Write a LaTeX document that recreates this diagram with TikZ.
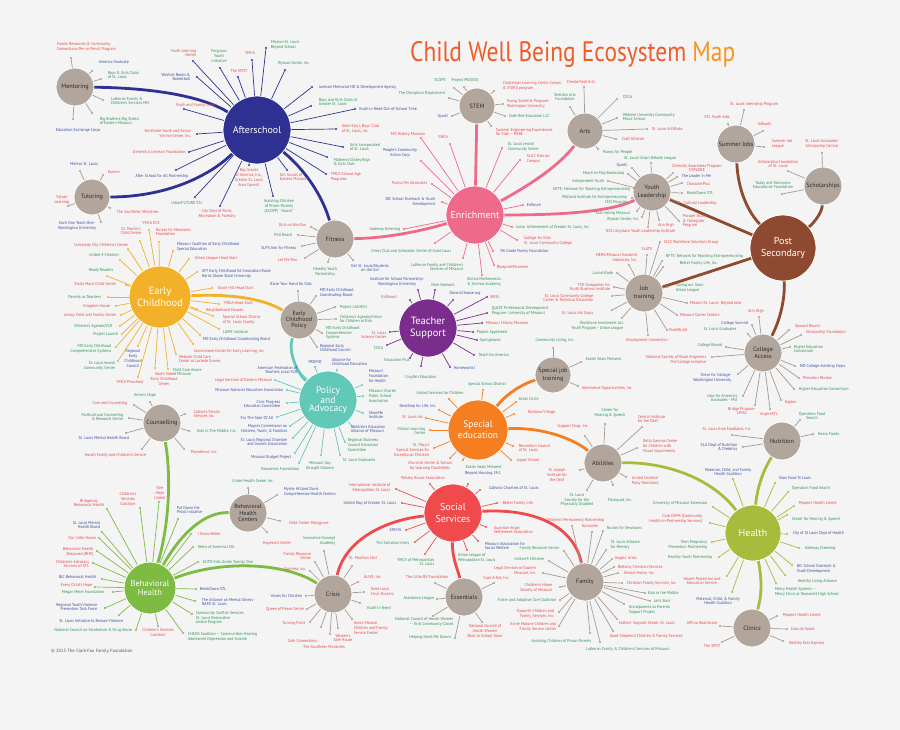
\documentclass[tikz,border=0pt]{standalone}
\usepackage{fontspec}
\setmainfont{PT Sans}
\newfontfamily\lblfont[FakeStretch=0.92]{PT Sans}
\definecolor{bg}{HTML}{F4F4F4}
\definecolor{tr}{HTML}{E5474A}
\definecolor{tg}{HTML}{2E9157}
\definecolor{tb}{HTML}{3D4DA0}
\definecolor{cAS}{HTML}{2E3192}
\definecolor{cEN}{HTML}{EE6A8A}
\definecolor{cEC}{HTML}{F2B129}
\definecolor{cTS}{HTML}{7B2D8E}
\definecolor{cPA}{HTML}{62C9B9}
\definecolor{cSE}{HTML}{F47E20}
\definecolor{cSS}{HTML}{EF4A4C}
\definecolor{cBH}{HTML}{7DBB42}
\definecolor{cHE}{HTML}{A7BB3C}
\definecolor{cPS}{HTML}{8E4A30}
\definecolor{cGR}{HTML}{B1A59C}
\definecolor{cGS}{HTML}{A59A92}
\definecolor{cTX}{HTML}{2B2B2B}
\definecolor{cT1}{HTML}{F15A29}
\definecolor{cT2}{HTML}{F7941D}
\definecolor{cFT}{HTML}{555555}
\newcounter{lfc}
\newcommand\lf[5]{\stepcounter{lfc}%
  \node[ldot,fill=\SC] (d\thelfc) at (#1) {};
  \draw[spoke,draw=\SC] (\HUB) -- (d\thelfc);
  \node[lbl,#3,text=#4] (t\thelfc) at (#2) {#5};}
\tikzset{
  ldot/.style={circle,inner sep=0pt,minimum size=2.2pt,draw=none},
  spoke/.style={line width=0.7pt},
  lbl/.style={inner sep=0.6pt,font=\lblfont\fontsize{4.3}{4.9}\selectfont},
  aW/.style={anchor=west,align=left},
  aE/.style={anchor=east,align=right},
  aC/.style={anchor=center,align=center},
  aN/.style={anchor=north,align=center},
  aS/.style={anchor=south,align=center},
  aSW/.style={anchor=south west,align=left},
  hub/.style={circle,inner sep=0pt,align=center,draw=white,line width=0.8pt},
  bighub/.style={hub,text=white,font=\fontsize{10}{12}\selectfont},
  greyhub/.style={hub,fill=cGR,text=cTX,font=\fontsize{6.2}{7.2}\selectfont},
  link/.style={line width=2.8pt},
}
\begin{document}
\begin{tikzpicture}[x=1pt,y=-1pt]
\fill[bg] (0,0) rectangle (900,730);
\useasboundingbox (0,0) rectangle (900,730);

\node[anchor=base west,inner sep=0pt] (title) at (410,62) {\resizebox{325pt}{20pt}{\color{cT1}Child Well Being Ecosystem \color{cT2}Map}};
\node[anchor=west,inner sep=0pt,font=\fontsize{4.6}{5}\selectfont,text=cFT] (foot) at (51,651) {\textcopyright{} 2015 The Clark-Fox Family Foundation};

% hubs
\node[greyhub,minimum size=38pt] (mentoring) at (75,87) {Mentoring};
\node[bighub,fill=cAS,minimum size=68pt] (afterschool) at (257,130) {Afterschool};
\node[greyhub,minimum size=36pt] (tutoring) at (92,197) {Tutoring};
\node[greyhub,minimum size=36pt] (stem) at (477,106) {STEM};
\node[greyhub,minimum size=36pt] (arts) at (585,131) {Arts};
\node[greyhub,minimum size=38pt] (summerjobs) at (736,144) {Summer Jobs};
\node[greyhub,minimum size=38pt] (scholarships) at (823,186) {Scholarships};
\node[greyhub,minimum size=38pt] (youthlead) at (652,192) {Youth\\Leadership};
\node[bighub,fill=cEN,minimum size=58pt] (enrichment) at (475,215) {Enrichment};
\node[greyhub,minimum size=38pt] (fitness) at (335,239) {Fitness};
\node[bighub,fill=cPS,minimum size=66pt] (postsec) at (783,248) {Post\\Secondary};
\node[bighub,fill=cEC,minimum size=62pt,font=\fontsize{10.5}{12.5}\selectfont] (earlychild) at (160,297) {Early\\Childhood};
\node[greyhub,minimum size=38pt,font=\fontsize{6}{6.4}\selectfont] (ecpolicy) at (299,320) {Early\\Childhood\\Policy};
\node[bighub,fill=cTS,minimum size=58pt,font=\fontsize{10.5}{12}\selectfont] (teacher) at (428,328) {Teacher\\Support};
\node[greyhub,minimum size=38pt] (jobtrain) at (644,293) {Job\\training};
\node[greyhub,minimum size=38pt] (college) at (763,353) {College\\Access};
\node[greyhub,minimum size=36pt] (sjt) at (553,375) {Special job\\training};
\node[bighub,fill=cPA,minimum size=58pt,font=\fontsize{9.5}{8}\selectfont] (policy) at (328,400) {Policy\\and\\Advocacy};
\node[greyhub,minimum size=38pt] (counsel) at (162,423) {Counselling};
\node[bighub,fill=cSE,minimum size=60pt,font=\fontsize{9.5}{11}\selectfont] (specialed) at (478,430) {Special\\education};
\node[greyhub,minimum size=38pt] (abilities) at (603,463) {Abilities};
\node[greyhub,minimum size=38pt] (nutrition) at (782,441) {Nutrition};
\node[greyhub,minimum size=38pt,font=\fontsize{6}{6.2}\selectfont] (bhc) at (248,513) {Behavioral\\Health\\Centers};
\node[bighub,fill=cSS,minimum size=58pt,font=\fontsize{10}{12}\selectfont] (social) at (453,513) {Social\\Services};
\node[bighub,fill=cHE,minimum size=56pt] (health) at (753,533) {Health};
\node[bighub,fill=cBH,minimum size=52pt,font=\fontsize{8.5}{8.5}\selectfont] (behav) at (150,588) {Behavioral\\Health};
\node[greyhub,minimum size=38pt] (crisis) at (333,594) {Crisis};
\node[greyhub,minimum size=38pt] (essentials) at (464,597) {Essentials};
\node[greyhub,minimum size=38pt] (family) at (585,582) {Family};
\node[greyhub,minimum size=38pt] (clinics) at (752,628) {Clinics};

% main links
\draw[link,cAS] (mentoring) .. controls (160,88) and (205,98) .. (afterschool);
\draw[link,cAS] (tutoring) .. controls (160,197) and (205,180) .. (afterschool);
\draw[link,cAS] (afterschool) .. controls (305,170) and (322,195) .. (fitness);
\draw[link,cEN] (fitness) .. controls (390,238) and (425,230) .. (enrichment);
\draw[link,cEN] (stem) -- (enrichment);
\draw[link,cEN] (arts) .. controls (560,165) and (530,185) .. (enrichment);
\draw[link,cEN] (enrichment) .. controls (560,215) and (610,212) .. (youthlead);
\draw[link,cPS] (summerjobs) .. controls (738,190) and (748,212) .. (postsec);
\draw[link,cPS] (scholarships) .. controls (822,212) and (815,222) .. (postsec);
\draw[link,cPS] (youthlead) -- (postsec);
\draw[link,cPS] (jobtrain) -- (postsec);
\draw[link,cPS] (postsec) .. controls (785,300) and (780,320) .. (college);
\draw[link,cEC] (earlychild) .. controls (230,294) and (262,298) .. (ecpolicy);
\draw[link,cPA] (ecpolicy) .. controls (288,350) and (296,372) .. (policy);
\draw[link,cSE] (specialed) .. controls (508,392) and (525,383) .. (sjt);
\draw[link,cSE] (specialed) .. controls (545,427) and (575,440) .. (abilities);
\draw[link,cBH] (counsel) .. controls (172,480) and (168,530) .. (behav);
\draw[link,cBH] (bhc) .. controls (205,512) and (182,532) .. (behav);
\draw[link,cBH] (behav) .. controls (220,560) and (285,562) .. (crisis);
\draw[link,cSS] (social) .. controls (385,520) and (345,540) .. (crisis);
\draw[link,cSS] (social) .. controls (452,558) and (458,570) .. (essentials);
\draw[link,cSS] (social) .. controls (540,508) and (575,530) .. (family);
\draw[link,cHE] (abilities) .. controls (672,462) and (715,482) .. (health);
\draw[link,cHE] (nutrition) .. controls (762,472) and (757,490) .. (health);
\draw[link,cHE] (health) .. controls (762,580) and (762,595) .. (clinics);

% Mentoring
\def\HUB{mentoring}\def\SC{cGS}
\lf{71,58}{56,52}{aSW}{tr}{Family Resources \& Community\\Connections Pen or Pencil Program}
\lf{92,71}{98,62}{aW}{tb}{America Graduate}
\lf{101,79}{107,75}{aW}{tg}{Boys \& Girls Clubs\\of St. Louis}
\lf{103,100}{110,101}{aW}{tg}{Lutheran Family \&\\Children's Services MO}
\lf{92,113}{99,121}{aW}{tg}{Big Brothers Big Sisters\\of Eastern Missouri}
\lf{73,119}{55,130}{aW}{tb}{Education Exchange Corps}

% Afterschool
\def\HUB{afterschool}\def\SC{cAS}
\lf{193,61}{197,53}{aE}{tr}{Youth Learning\\Center}
\lf{220,68}{219,56}{aC}{tg}{Ferguson\\Youth\\Initiative}
\lf{252,60}{250,53}{aC}{tr}{YMCA}
\lf{266,48}{270,45}{aW}{tg}{Mission St. Louis\\Beyond School}
\lf{285,70}{277,63}{aW}{tg}{Wyman Center, Inc.}
\lf{238,77}{239,71}{aC}{tr}{The SPOT}
\lf{197,77}{191,77}{aE}{tb}{Washiel Books \&\\Basketball}
\lf{184,109}{175,105}{aW}{tr}{Youth and Family Center}
\lf{197,134}{192,134}{aE}{tr}{Northside Youth and Senior\\Service Center, Inc.}
\lf{189,152}{186,152}{aE}{tr}{Demetrius Johnson Foundation}
\lf{176,170}{189,176}{aE}{tb}{After School for All Partnership}
\lf{249,165}{249,168}{aN}{tr}{Boy Scouts\\of America, Inc.,\\Greater St. Louis\\Area Council}
\lf{287,170}{279,177}{aW}{tr}{Girl Scouts of\\Eastern Missouri}
\lf{273,196}{279,199}{aN}{tg}{Assisting Children\\of Prison Parents\\(ACOPP) ``Hoard''}
\lf{220,206}{217,209}{aN}{tr}{City Dept of Parks,\\Recreation \& Forestry}
\lf{195,197}{187,201}{aN}{tg}{UrbanFUTURE STL}
\lf{312,87}{318,87}{aW}{tb}{Jamison Memorial HR \& Development Agency}
\lf{311,106}{318,102}{aW}{tg}{Boys and Girls Clubs of\\Greater St. Louis}
\lf{355,109}{358,109}{aW}{tb}{Youth in Need Out-of-School Time}
\lf{336,129}{341,129}{aW}{tr}{Gene Slay's Boys' Club\\of St. Louis, Inc.}
\lf{343,147}{349,147}{aW}{tg}{Girls Incorporated\\of St. Louis}
\lf{327,157}{333,162}{aW}{tg}{Mathews-Dickey Boys\\\& Girls Club}
\lf{326,174}{330,177}{aW}{tr}{YMCA School-Age\\Programs}

% Tutoring
\def\HUB{tutoring}\def\SC{cGS}
\lf{80,171}{84,164}{aC}{tb}{Mentor St. Louis}
\lf{103,175}{107,172}{aW}{tr}{Kumon}
\lf{68,206}{62,200}{aC}{tr}{Sylvan\\Learning}
\lf{110,208}{116,212}{aW}{tr}{The Soulfisher Ministries}
\lf{101,222}{77,226}{aC}{tb}{Each One Teach One-\\Washington University}

% STEM
\def\HUB{stem}\def\SC{cGS}
\lf{454,88}{440,80}{aC}{tg}{SCOPE}
\lf{464,87}{465,80}{aC}{tg}{Project MOSSSS}
\lf{494,91}{502,86}{aW}{tr}{Challenger Learning Center Camps\\\& STARS program}
\lf{449,98}{446,93}{aE}{tg}{The Disruption Department}
\lf{503,104}{506,104}{aW}{tr}{Young Scientist Program-\\Washington University}
\lf{452,116}{449,116}{aE}{tb}{Spark!}
\lf{505,116}{508,116}{aW}{tg}{Code Red Education LLC}
\lf{491,126}{495,132}{aW}{tr}{Summer Engineering Experiences\\for Kids -- NSBE}

% Arts
\def\HUB{arts}\def\SC{cGS}
\lf{584,87}{581,82}{aC}{tr}{Chesterfield Arts}
\lf{570,107}{565,97}{aC}{tg}{Sheldon Arts\\Foundation}
\lf{617,99}{622,97}{aW}{tg}{COCA}
\lf{617,118}{622,117}{aW}{tg}{Webster University Community\\Music School}
\lf{647,129}{651,129}{aW}{tr}{St. Louis ArtWorks}
\lf{616,139}{621,139}{aW}{tr}{Craft Alliance}
\lf{598,149}{602,152}{aW}{tg}{Pianos for People}

% Enrichment
\def\HUB{enrichment}\def\SC{cEN}
\lf{421,138}{408,134}{aC}{tr}{MO History Museum}
\lf{450,144}{443,137}{aC}{tr}{YWCA}
\lf{421,161}{400,153}{aC}{tb}{People's Community\\Action Corp}
\lf{502,148}{507,147}{aW}{tg}{St. Louis Jewish\\Community Center}
\lf{520,160}{526,159}{aW}{tr}{SLUC Kids on\\Campus}
\lf{432,184}{428,183}{aE}{tr}{Purina Pet Advocates}
\lf{442,202}{436,202}{aE}{tb}{BJC School Outreach \& Youth\\Development}
\lf{404,229}{401,229}{aE}{tg}{Gateway Greening}
\lf{435,243}{452,251}{aE}{tg}{Chess Club and Scholastic Center of Saint Louis}
\lf{463,258}{464,267}{aE}{tg}{Lutheran Family and Children's\\Services of Missouri}
\lf{482,275}{484,277}{aN}{tg}{Illinois Mathematics\\\& Science Academy}
\lf{494,265}{496,267}{aW}{tr}{Blueprint4Summer}
\lf{493,251}{499,251}{aW}{tb}{7th Grade Poetry Foundation}
\lf{517,240}{523,241}{aW}{tr}{College for Kids-\\St. Louis Community College}
\lf{512,227}{515,227}{aW}{tg}{Junior Achievement of Greater St. Louis, Inc}
\lf{523,205}{526,205}{aW}{tb}{Enflourn}

% Youth Leadership
\def\HUB{youthlead}\def\SC{cGS}
\lf{651,163}{650,158}{aC}{tg}{St. Louis Urban Debate League}
\lf{673,173}{697,168}{aC}{tr}{Diversity Awareness Program\\EXPLORE}
\lf{677,177}{681,176}{aW}{tb}{The Leader in Me}
\lf{682,183}{686,184}{aW}{tr}{CharacterPlus}
\lf{682,193}{686,193}{aW}{tg}{BreakDown STL}
\lf{679,202}{683,203}{aW}{tr}{Cultural Leadership}
\lf{679,221}{682,221}{aW}{tr}{Prosper Youth\\\& Collegiate\\Program}
\lf{659,220}{666,225}{aC}{tr}{Aim High}
\lf{648,227}{676,231}{aE}{tr}{NCCJ Anytown Youth Leadership Institute}
\lf{642,217}{640,219}{aE}{tg}{Wyman Center, Inc.}
\lf{637,211}{631,213}{aE}{tg}{Kids Voting Missouri}
\lf{632,198}{628,200}{aE}{tg}{Midland Institute for Entrepreneurship\\CEO Program}
\lf{634,188}{631,189}{aE}{tg}{NFTE: Network for Teaching Entrepreneurship}
\lf{608,181}{605,181}{aE}{tg}{Independent Youth}
\lf{628,174}{625,173}{aE}{tg}{March to May Bookcamp}
\lf{632,168}{628,165}{aE}{tb}{Spark!}

% Summer Jobs
\def\HUB{summerjobs}\def\SC{cGS}
\lf{744,110}{754,104}{aC}{tr}{St. Louis Internship Program}
\lf{728,124}{717,117}{aC}{tr}{STL Youth Jobs}
\lf{763,131}{757,124}{aW}{tr}{InRoads}
\lf{764,147}{771,144}{aW}{tr}{Summer Job\\League}

% Scholarships
\def\HUB{scholarships}\def\SC{cGS}
\lf{822,153}{822,144}{aC}{tr}{St. Louis Graduates'\\Scholarship Central}
\lf{788,171}{778,164}{aC}{tr}{Scholarship Foundation\\of St. Louis}
\lf{782,194}{773,185}{aC}{tg}{Today and Tomorrow\\Educational Foundation}

% Job training
\def\HUB{jobtrain}\def\SC{cGS}
\lf{660,242}{663,242}{aW}{tr}{SLCC Workforce Solutions Group}
\lf{647,255}{647,249}{aC}{tr}{SLATE}
\lf{629,265}{638,258}{aE}{tr}{MERS/Missouri Goodwill\\Industries, Inc.}
\lf{662,261}{665,256}{aW}{tg}{NFTE: Network for Teaching Entrepreneurship}
\lf{663,267}{679,263}{aW}{tg}{Better Family Life, Inc.}
\lf{667,287}{675,288}{aW}{tg}{Saving our Sons-\\Urban League}
\lf{687,303}{689,303}{aW}{tr}{Mission St. Louis- Beyond Jobs}
\lf{677,315}{679,315}{aW}{tr}{Missouri Career Centers}
\lf{667,330}{668,330}{aW}{tr}{YouthBuild}
\lf{648,335}{647,340}{aC}{tr}{Employment Connection}
\lf{622,318}{624,326}{aE}{tg}{Workforce Investment Act\\Youth Program - Urban League}
\lf{617,273}{614,273}{aE}{tg}{LaunchCode}
\lf{614,287}{611,287}{aE}{tr}{T3X Companies Inc\\Youth Business Institute}
\lf{612,296}{594,298}{aE}{tr}{St. Louis Community College\\Career \& Technical Education}
\lf{612,310}{594,313}{aE}{tr}{St. Louis Job Corps}

% College Access
\def\HUB{college}\def\SC{cGS}
\lf{759,317}{756,311}{aC}{tr}{Aim High}
\lf{752,325}{749,323}{aE}{tb}{College Summit}
\lf{748,334}{737,329}{aE}{tg}{St. Louis Graduates}
\lf{726,347}{723,345}{aE}{tg}{College Bound}
\lf{789,330}{794,326}{aW}{tr}{Upward Bound}
\lf{801,335}{805,332}{aW}{tr}{Scholarship Foundation}
\lf{790,347}{793,349}{aW}{tg}{Higher Education\\Consortium}
\lf{795,366}{799,366}{aW}{tb}{MO College Advising Corps}
\lf{799,378}{802,378}{aW}{tr}{Princeton Review}
\lf{794,389}{798,389}{aW}{tg}{Higher Education Consortium}
\lf{781,400}{784,402}{aW}{tr}{Kaplan}
\lf{770,409}{769,414}{aC}{tr}{inspireSTL}
\lf{755,405}{742,411}{aC}{tr}{Bridge Program-\\UMSL}
\lf{743,396}{738,398}{aE}{tg}{Jobs for America's\\Graduates - MO}
\lf{738,374}{732,378}{aE}{tb}{Strive for College-\\Washington University}
\lf{712,357}{707,360}{aE}{tr}{National Society of Black Engineers\\Pre-College Initiative}

% Special job training
\def\HUB{sjt}\def\SC{cGS}
\lf{553,348}{555,340}{aC}{tg}{Community Living, Inc.}
\lf{581,362}{585,359}{aW}{tg}{Easter Seals Midwest}
\lf{578,386}{581,388}{aW}{tr}{Alternative Opportunities, Inc.}

% Early Childhood
\def\HUB{earlychild}\def\SC{cEC}
\lf{149,230}{151,223}{aC}{tr}{YMCA ECE}
\lf{140,241}{131,231}{aC}{tr}{St. Martin's\\Child Center}
\lf{159,242}{155,232}{aW}{tr}{Nurses for Newborns\\Foundation}
\lf{173,251}{176,247}{aW}{tb}{Missouri Coalition of Early Childhood\\Special Education}
\lf{189,259}{194,258}{aW}{tr}{Urban League Head Start}
\lf{197,272}{201,274}{aW}{tb}{AFT Early Childhood Ed Innovation Rand-\\Harris Stowe State University}
\lf{212,288}{217,288}{aW}{tr}{Grace Hill Head Start}
\lf{219,304}{223,303}{aW}{tr}{YWCA Head Start}
\lf{197,309}{205,310}{aW}{tr}{Neighborhood Houses}
\lf{213,316}{222,320}{aW}{tr}{Special School District\\of St. Louis County}
\lf{219,329}{222,332}{aW}{tg}{LUME Institute}
\lf{200,335}{202,339}{aW}{tb}{MO Early Childhood Coordinating Board}
\lf{193,344}{193,351}{aW}{tr}{Cornerstone Center for Early Learning, Inc.}
\lf{176,354}{178,359}{aW}{tr}{Webster Child Care\\Center at Laclede Groves}
\lf{168,369}{172,372}{aW}{tg}{Child Care Aware\\of Missouri}
\lf{155,368}{164,372}{aN}{tr}{South Side\\Early Childhood\\Center}
\lf{138,377}{130,382}{aC}{tr}{YMCA Preschool}
\lf{138,346}{133,349}{aN}{tb}{Regional\\Early\\Childhood\\Council}
\lf{118,361}{116,366}{aE}{tg}{St. Louis Jewish\\Community Center}
\lf{116,347}{112,349}{aE}{tg}{MO Early Childhood\\Comprehensive Systems}
\lf{122,334}{119,334}{aE}{tg}{Project Launch}
\lf{120,326}{113,326}{aE}{tg}{Children's Agenda/VCR}
\lf{121,315}{117,315}{aE}{tr}{Lemay Child and Family Center}
\lf{116,306}{111,306}{aE}{tr}{Kingdom House}
\lf{108,297}{102,297}{aE}{tg}{Parents as Teachers}
\lf{126,285}{117,284}{aE}{tr}{Stella Maris Child Center}
\lf{107,276}{101,270}{aC}{tg}{Ready Readers}
\lf{120,260}{104,255}{aC}{tg}{United 4 Children}
\lf{128,249}{129,245}{aE}{tr}{University City Children's Center}

% Early Childhood Policy
\def\HUB{ecpolicy}\def\SC{cGS}
\lf{298,291}{291,284}{aC}{tb}{Raise Your Hand for Kids}
\lf{316,296}{319,293}{aW}{tb}{MO Early Childhood\\Coordinating Board}
\lf{335,307}{339,307}{aW}{tg}{Project LAUNCH}
\lf{336,319}{339,319}{aW}{tg}{Children's Agenda/Vision\\for Children at Risk}
\lf{322,333}{325,333}{aW}{tg}{MO Early Childhood\\Comprehensive\\Systems}
\lf{317,347}{319,348}{aW}{tb}{Regional Early\\Childhood Council}

% Fitness
\def\HUB{fitness}\def\SC{cGS}
\lf{311,227}{307,225}{aE}{tr}{Girls on the Run}
\lf{298,235}{293,235}{aE}{tg}{PGA Reach}
\lf{302,246}{297,248}{aE}{tb}{SLPS Aim for Fitness}
\lf{305,258}{298,260}{aE}{tr}{Let Me Run}
\lf{328,262}{325,272}{aC}{tg}{Healthy Youth\\Partnership}
\lf{353,260}{370,268}{aC}{tb}{Get St. Louis/Students\\on the Go!}

% Teacher Support
\def\HUB{teacher}\def\SC{cTS}
\lf{418,290}{397,282}{aC}{tb}{Institute for School Partnership-\\Washington University}
\lf{435,290}{443,285}{aC}{tg}{Nine Network}
\lf{453,300}{465,293}{aC}{tb}{DonorsChoose.org}
\lf{487,297}{489,297}{aW}{tr}{UMSL}
\lf{487,313}{491,311}{aW}{tg}{QuEST Professional Development\\Program- University of Missouri}
\lf{482,323}{485,323}{aW}{tr}{Missouri History Museum}
\lf{473,332}{476,332}{aW}{tg}{Project Appleseed}
\lf{477,340}{479,340}{aW}{tg}{Springboard}
\lf{474,355}{478,355}{aW}{tg}{Teach for America}
\lf{450,367}{453,368}{aW}{tb}{Homeworks!}
\lf{421,366}{421,377}{aC}{tg}{Crayfish Education}
\lf{410,358}{397,360}{aC}{tg}{Education Plus}
\lf{387,345}{384,348}{aE}{tg}{COCA}
\lf{390,332}{387,335}{aE}{tr}{St. Louis\\Science Center}
\lf{410,300}{389,297}{aC}{tr}{KidSmart}

% Policy and Advocacy
\def\HUB{policy}\def\SC{cPA}
\lf{300,372}{298,370}{aE}{tb}{American Federation of\\Teachers Local 420}
\lf{275,380}{273,380}{aE}{tr}{Legal Services of Eastern Missouri}
\lf{287,390}{284,390}{aE}{tb}{Missouri National Education Association}
\lf{287,403}{281,404}{aE}{tb}{Civic Progress\\Education Committee}
\lf{277,417}{274,418}{aE}{tb}{For The Sake Of All}
\lf{290,426}{288,429}{aE}{tb}{Mayor's Commission on\\Children, Youth, \& Families}
\lf{293,438}{288,442}{aE}{tb}{St. Louis Regional Chamber\\and Growth Association}
\lf{295,453}{292,457}{aE}{tb}{Missouri Budget Project}
\lf{299,463}{300,469}{aE}{tg}{Deaconess Foundation}
\lf{321,455}{320,466}{aC}{tg}{Missouri Gay\\Straight Alliance}
\lf{340,455}{342,460}{aW}{tg}{St. Louis Graduates}
\lf{345,442}{347,445}{aW}{tg}{Regional Business\\Council Education\\Committee}
\lf{353,427}{350,429}{aW}{tb}{Children's Education\\Alliance of Missouri}
\lf{363,413}{368,415}{aW}{tb}{ShowMe\\Institute}
\lf{363,396}{368,396}{aW}{tg}{Missouri Charter\\Public School\\Association}
\lf{362,385}{368,376}{aW}{tb}{Missouri\\Foundation\\for Health}
\lf{315,367}{315,362}{aC}{tb}{PROMO}
\lf{337,370}{331,362}{aW}{tb}{Alliance for\\Childhood Education}

% Counselling
\def\HUB{counsel}\def\SC{cGS}
\lf{150,402}{145,395}{aC}{tg}{Annie's Hope}
\lf{134,405}{128,403}{aE}{tr}{Care and Counseling}
\lf{129,418}{124,417}{aE}{tg}{Multicultural Counseling\\\& Research Center}
\lf{126,433}{130,438}{aE}{tb}{St. Louis Mental Health Board}
\lf{142,449}{147,455}{aE}{tr}{Jewish Family and Children's Service}
\lf{184,449}{190,452}{aW}{tr}{Providence, Inc.}
\lf{189,431}{196,431}{aW}{tg}{Kids In The Middle, Inc.}
\lf{185,414}{193,414}{aW}{tr}{Catholic Family\\Services Inc.}

% Behavioral Health Centers
\def\HUB{bhc}\def\SC{cGS}
\lf{248,488}{253,481}{aC}{tg}{Crider Health Center Inc.}
\lf{277,495}{283,492}{aW}{tb}{Myrtle Hilliard Davis\\Comprehensive Health Centers}
\lf{280,521}{288,523}{aW}{tr}{Child Center-Marygrove}
\lf{267,532}{277,543}{aC}{tr}{Hopewell Center}

% Behavioral Health
\def\HUB{behav}\def\SC{cBH}
\lf{107,509}{89,503}{aC}{tr}{Bridgeway\\Behavioral Health}
\lf{140,508}{128,499}{aC}{tr}{Children's\\Services\\Coalition}
\lf{159,502}{160,493}{aC}{tr}{One\\Hope\\United}
\lf{178,519}{176,510}{aW}{tb}{Put Down the\\Pistol Initiative}
\lf{191,534}{197,534}{aW}{tr}{I Know Better}
\lf{102,532}{101,525}{aE}{tb}{St. Louis Mental\\Health Board}
\lf{99,538}{97,538}{aE}{tr}{Our Little Haven}
\lf{97,551}{94,552}{aE}{tr}{Behavioral Health\\Response (BHR)}
\lf{93,563}{90,564}{aE}{tr}{Children's Advocacy\\Services of STL}
\lf{102,579}{97,577}{aE}{tb}{BJC Behavioral Health}
\lf{95,587}{93,585}{aE}{tr}{Every Child's Hope}
\lf{113,592}{105,592}{aE}{tg}{Megan Meier Foundation}
\lf{105,608}{98,607}{aE}{tb}{Regional Youth Violence\\Prevention Task Force}
\lf{119,615}{124,621}{aE}{tb}{St. Louis Initiative to Reduce Violence}
\lf{136,630}{133,630}{aE}{tg}{National Council on Alcoholism \& Drug Abuse}
\lf{158,626}{158,628}{aN}{tr}{Children's Services\\Coalition}
\lf{183,633}{187,637}{aW}{tg}{CHADS Coalition -- Communities Healing\\Adolescent Depression and Suicide}
\lf{192,614}{195,618}{aW}{tg}{Community Conflict Services\\St. Louis Restorative\\Justice Program}
\lf{195,601}{201,602}{aW}{tb}{The Alliance on Mental Illness -\\NAMI St. Louis}
\lf{196,589}{199,589}{aW}{tb}{BreakDown STL}
\lf{198,562}{202,562}{aW}{tg}{KUTO Kids Under Twenty One}
\lf{193,547}{197,547}{aW}{tg}{Teens of America USA}

% Crisis
\def\HUB{crisis}\def\SC{cGS}
\lf{324,551}{336,541}{aE}{tg}{Innovative Concept\\Academy}
\lf{315,562}{312,556}{aE}{tr}{Family Resource\\Center}
\lf{310,571}{307,569}{aE}{tr}{Comtrea, Inc.}
\lf{306,596}{303,596}{aE}{tb}{Voices for Children}
\lf{307,609}{305,609}{aE}{tr}{Queen of Peace Center}
\lf{310,622}{306,623}{aE}{tr}{Turning Point}
\lf{321,627}{318,641}{aE}{tr}{Safe Connections}
\lf{330,634}{324,647}{aC}{tr}{The Soulfisher Ministries}
\lf{338,628}{343,638}{aC}{tr}{Women's\\Safe House}
\lf{352,619}{353,628}{aW}{tr}{Annie Malone\\Children and Family\\Service Center}
\lf{360,603}{366,608}{aW}{tg}{Youth In Need}
\lf{364,592}{370,592}{aW}{tr}{Saint Louis\\Crisis Nursery}
\lf{358,582}{363,577}{aW}{tr}{ALIVE, Inc}
\lf{352,566}{363,558}{aC}{tr}{St. Martha's Hall}

% Essentials
\def\HUB{essentials}\def\SC{cGS}
\lf{435,583}{427,577}{aC}{tr}{The Little Bit Foundation}
\lf{494,583}{496,578}{aC}{tr}{Coat-A-Kid, Inc}
\lf{437,599}{435,598}{aE}{tg}{Assistance League}
\lf{433,616}{454,622}{aE}{tg}{National Council of Jewish Women\\-- Kids Community Closet}
\lf{455,638}{452,637}{aE}{tg}{Helping Hand Me Downs}
\lf{482,622}{485,631}{aC}{tr}{National Council of\\Jewish Women\\Back to School Store}

% Social Services
\def\HUB{social}\def\SC{cSS}
\lf{430,484}{423,478}{aC}{tr}{Wesley House Association}
\lf{396,489}{391,488}{aE}{tr}{International Institute of\\Metropolitan St. Louis}
\lf{402,503}{397,503}{aE}{tb}{United Way of Greater St. Louis}
\lf{406,530}{402,530}{aE}{tb}{ARCHS}
\lf{415,542}{410,543}{aE}{tg}{The Salvation Army}
\lf{425,554}{435,562}{aE}{tg}{YWCA of Metropolitan\\St. Louis}
\lf{467,550}{457,558}{aW}{tg}{Urban League of\\Metropolitan St. Louis}
\lf{478,541}{484,546}{aW}{tb}{Missouri Association for\\Social Welfare}
\lf{486,527}{493,530}{aW}{tr}{Guardian Angel\\Settlement Association}
\lf{497,503}{502,503}{aW}{tr}{Better Family Life}
\lf{480,490}{488,488}{aW}{tb}{Catholic Charities of St. Louis}
\lf{468,484}{483,473}{aC}{tb}{Beyond Housing 24:1}

% Special education
\def\HUB{specialed}\def\SC{cSE}
\lf{483,390}{487,384}{aC}{tg}{Special School District}
\lf{449,399}{440,393}{aC}{tg}{United Services for Children}
\lf{439,410}{437,406}{aE}{tb}{NextStep for Life, Inc.}
\lf{426,418}{424,417}{aE}{tr}{St. Louis Arc}
\lf{430,430}{426,431}{aE}{tg}{Miriam Learning\\Center}
\lf{434,448}{430,450}{aE}{tr}{St. Mary's\\Special Services for\\Exceptional Children}
\lf{450,458}{430,466}{aC}{tr}{Churchill Center \& School\\for Learning Disabilities}
\lf{463,460}{465,467}{aW}{tg}{Easter Seals Midwest}
\lf{511,460}{516,460}{aW}{tr}{Logos School}
\lf{513,446}{518,448}{aW}{tr}{Recreation Council\\of St. Louis}
\lf{514,414}{527,412}{aW}{tr}{Rainbow Village}
\lf{516,402}{518,399}{aW}{tg}{Great Circle}

% Abilities
\def\HUB{abilities}\def\SC{cGS}
\lf{605,424}{610,413}{aC}{tg}{Center for\\Hearing \& Speech}
\lf{642,427}{637,419}{aW}{tr}{Central Institute\\for the Deaf}
\lf{637,448}{642,446}{aW}{tr}{Delta Gamma Center\\for Children with\\Visual Impairments}
\lf{626,477}{631,481}{aW}{tr}{United Cerebral\\Palsy Heartland}
\lf{613,485}{620,500}{aC}{tg}{Paraquad, Inc.}
\lf{587,490}{577,500}{aC}{tg}{St. Louis\\Society for the\\Physically Disabled}
\lf{580,470}{557,475}{aC}{tr}{St. Joseph\\Institute for\\the Deaf}
\lf{585,436}{573,426}{aC}{tr}{Support Dogs, Inc.}

% Nutrition
\def\HUB{nutrition}\def\SC{cGS}
\lf{800,420}{812,416}{aC}{tg}{Operation Food\\Search}
\lf{813,434}{817,434}{aW}{tg}{Hosco Foods}
\lf{732,435}{727,429}{aC}{tr}{St. Louis Area Foodbank, Inc.}
\lf{743,447}{738,447}{aE}{tb}{SLU Dept of Nutrition\\\& Dietetics}

% Health
\def\HUB{health}\def\SC{cHE}
\lf{733,479}{728,472}{aC}{tb}{Maternal, Child, and Family\\Health Coalition}
\lf{775,483}{778,478}{aW}{tb}{Slow Food St Louis}
\lf{788,492}{791,488}{aW}{tg}{Operation Food Search}
\lf{794,506}{798,503}{aW}{tr}{People's Health Center}
\lf{787,515}{791,519}{aW}{tg}{Center for Hearing \& Speech}
\lf{787,534}{792,533}{aW}{tb}{City of St Louis Dept of Health}
\lf{799,548}{804,548}{aW}{tg}{Gateway Greening}
\lf{792,565}{796,569}{aW}{tb}{BJC School Outreach \&\\Youth Development}
\lf{785,575}{797,581}{aW}{tg}{Healthy Living Alliance}
\lf{776,583}{774,592}{aW}{tg}{Mercy Health Systems --\\Mercy Clinic at Roosevelt High School}
\lf{732,592}{718,601}{aC}{tb}{Maternal, Child, \& Family\\Health Coalition}
\lf{727,576}{702,581}{aC}{tr}{Health Protection and\\Education Service}
\lf{719,557}{713,557}{aE}{tg}{Healthy Youth Partnership}
\lf{712,542}{708,545}{aE}{tg}{Teen Pregnancy\\Prevention Partnership}
\lf{710,523}{703,519}{aE}{tr}{Club OHPS (Community\\Health-In-Partnership Services)}
\lf{713,507}{708,503}{aE}{tg}{University of Missouri Extension}

% Clinics
\def\HUB{clinics}\def\SC{cGS}
\lf{777,616}{782,615}{aW}{tr}{People's Health Center}
\lf{787,629}{790,629}{aW}{tr}{Casa de Salud}
\lf{783,641}{788,643}{aW}{tr}{Healthy Kids Express}
\lf{720,626}{718,623}{aE}{tr}{Affinia Healthcare}
\lf{722,642}{721,646}{aE}{tr}{The SPOT}

% Family
\def\HUB{family}\def\SC{cGS}
\lf{572,526}{575,520}{aC}{tr}{Children's Permanency Partnership}
\lf{592,532}{590,526}{aC}{tr}{Humanim}
\lf{603,531}{606,528}{aW}{tg}{Nurses for Newborns}
\lf{606,550}{610,545}{aW}{tg}{St. Louis Alliance\\for Reentry}
\lf{612,559}{614,558}{aW}{tr}{Angels' Arms}
\lf{614,567}{617,567}{aW}{tr}{Bethany Christian Services}
\lf{618,573}{623,573}{aW}{tr}{Almost Home, Inc.}
\lf{622,583}{626,583}{aW}{tr}{Christian Family Services, Inc}
\lf{645,593}{647,593}{aW}{tg}{Kids in the Middle}
\lf{650,601}{653,601}{aW}{tg}{Let's Start}
\lf{624,604}{628,610}{aW}{tg}{Grandparents as Parents\\Support Project}
\lf{617,619}{618,623}{aW}{tr}{Fathers' Support Center, St. Louis}
\lf{613,631}{609,636}{aW}{tr}{Good Shepherd Children \& Family Services}
\lf{600,642}{585,649}{aW}{tg}{Lutheran Family \& Children's Services of Missouri}
\lf{590,633}{592,641}{aE}{tg}{Assisting Children of Prison Parents}
\lf{559,626}{557,627}{aE}{tr}{Annie Malone Children and\\Family Service Center}
\lf{559,612}{555,614}{aE}{tr}{Epworth Children and\\Family Services, Inc.}
\lf{560,600}{557,600}{aE}{tg}{Foster and Adoptive Care Coalition}
\lf{560,587}{553,588}{aE}{tr}{Children's Home\\Society of Missouri}
\lf{543,573}{537,571}{aE}{tr}{Legal Services of Eastern\\Missouri, Inc.}
\lf{549,561}{545,559}{aE}{tg}{United 4 Children}
\lf{564,551}{560,548}{aE}{tg}{Family Resource Center}
\end{tikzpicture}
\end{document}
